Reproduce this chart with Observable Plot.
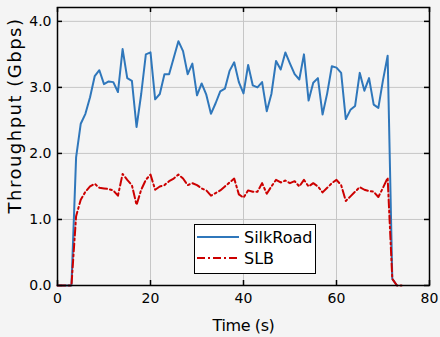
<!DOCTYPE html>
<html>
<head>
<meta charset="utf-8">
<script src="https://cdn.jsdelivr.net/npm/d3@7"></script>
<script src="https://cdn.jsdelivr.net/npm/@observablehq/plot@0.6"></script>
<style>
  html, body { margin: 0; padding: 0; background: #f4f4f4; }
  #wrap { position: relative; width: 440px; height: 337px; background: #f4f4f4; font-family: "DejaVu Sans", sans-serif; }
  #legend { position: absolute; left: 194px; top: 224px; width: 120px; height: 48px; background: #fff; border: 1px solid #000; }
  #legend .row { position: absolute; left: 2px; height: 20px; display: flex; align-items: center; font-size: 16px; color: #000; }
  #legend svg { margin-right: 5px; }
</style>
</head>
<body>
<div id="wrap"></div>
<script>
const time = d3.range(0, 75);
const silkRoad = [0, 0, 0, 0, 1.94, 2.45, 2.6, 2.85, 3.17, 3.26,
  3.05, 3.09, 3.08, 2.93, 3.58, 3.14, 3.1, 2.4, 2.9, 3.5,
  3.53, 2.82, 2.9, 3.2, 3.2, 3.45, 3.7, 3.55, 3.2, 3.36,
  2.88, 3.06, 2.89, 2.6, 2.76, 2.94, 2.98, 3.25, 3.38, 3.08,
  2.91, 3.34, 3.03, 3.0, 3.08, 2.64, 2.9, 3.4, 3.27, 3.53,
  3.36, 3.2, 3.12, 3.5, 2.8, 3.07, 3.14, 2.59, 2.91, 3.32,
  3.3, 3.22, 2.52, 2.66, 2.72, 3.22, 2.95, 3.14, 2.74, 2.69,
  3.11, 3.48, 0.1, 0];
const slb = [0, 0, 0, 0, 1.05, 1.3, 1.42, 1.5, 1.54, 1.48,
  1.47, 1.46, 1.44, 1.36, 1.69, 1.6, 1.52, 1.22, 1.45, 1.6,
  1.68, 1.45, 1.5, 1.52, 1.58, 1.62, 1.68, 1.62, 1.52, 1.55,
  1.52, 1.47, 1.44, 1.36, 1.4, 1.44, 1.5, 1.56, 1.62, 1.38,
  1.33, 1.44, 1.42, 1.42, 1.55, 1.39, 1.5, 1.6, 1.56, 1.59,
  1.55, 1.58, 1.5, 1.6, 1.5, 1.55, 1.5, 1.41, 1.48, 1.55,
  1.6, 1.52, 1.28, 1.35, 1.42, 1.49, 1.45, 1.43, 1.42, 1.34,
  1.48, 1.63, 0.1, 0, 0];
const xTicks = [0, 20, 40, 60, 80];
const yTicks = [0, 1, 2, 3, 4];
const seriesNames = ["SilkRoad", "SLB"];
const colors = ["#2f77bb", "#cc0000"];
const dash = "8,3,2,3";
const xLabel = "Time (s)";
const yLabel = "Throughput (Gbps)";

const silkData = silkRoad.map((v, i) => ({t: time[i], v}));
const slbData = slb.map((v, i) => ({t: time[i], v}));

const W = 440, H = 337, mL = 57, mR = 11, mT = 7, mB = 52;
const innerW = W - mL - mR, innerH = H - mT - mB;

const chart = Plot.plot({
  width: W, height: H,
  marginLeft: mL, marginRight: mR, marginTop: mT, marginBottom: mB,
  style: {background: "#f4f4f4", fontFamily: "DejaVu Sans, sans-serif", fontSize: "14px", color: "#000"},
  x: {domain: [0, 80]},
  y: {domain: [0, 4.21]},
  marks: [
    Plot.gridX(xTicks.slice(1, -1), {stroke: "#c6c6c6", strokeOpacity: 1, strokeWidth: 1}),
    Plot.gridY(yTicks.slice(1), {stroke: "#c6c6c6", strokeOpacity: 1, strokeWidth: 1}),
    Plot.axisX(xTicks, {tickSize: 0, tickPadding: 8, tickFormat: d => String(d), label: null, fontSize: 14}),
    Plot.axisY(yTicks, {tickSize: 0, tickPadding: 6, tickFormat: d => d.toFixed(1), label: null, fontSize: 14}),
    Plot.tickX(xTicks, {x: d => d, insetTop: innerH - 5, stroke: "#000", strokeWidth: 1.5}),
    Plot.tickX(xTicks, {x: d => d, insetBottom: innerH - 5, stroke: "#000", strokeWidth: 1.5}),
    Plot.tickY(yTicks, {y: d => d, insetRight: innerW - 5, stroke: "#000", strokeWidth: 1.5}),
    Plot.tickY(yTicks, {y: d => d, insetLeft: innerW - 5, stroke: "#000", strokeWidth: 1.5}),
    Plot.lineY(silkData, {x: "t", y: "v", stroke: colors[0], strokeWidth: 2}),
    Plot.lineY(slbData, {x: "t", y: "v", stroke: colors[1], strokeWidth: 2, strokeDasharray: dash}),
    Plot.frame({stroke: "#000", strokeWidth: 1.5}),
    Plot.text([xLabel], {frameAnchor: "bottom", dy: 45, fontSize: 16, fill: "#000"}),
    Plot.text([yLabel], {frameAnchor: "left", textAnchor: "middle", dx: -42, dy: -31, rotate: -90, fontSize: 18, fill: "#000"})
  ]
});

chart.querySelectorAll("text").forEach(t => {
  if (t.textContent === yLabel) t.style.letterSpacing = "1.5px";
  if (t.textContent === xLabel) t.style.letterSpacing = "-0.4px";
});

const wrap = document.getElementById("wrap");
wrap.appendChild(chart);

const legend = document.createElement("div");
legend.id = "legend";
seriesNames.forEach((name, i) => {
  const row = document.createElement("div");
  row.className = "row";
  row.style.top = (i === 0 ? 2 : 23) + "px";
  row.innerHTML = `<svg width="42" height="20"><line x1="0" y1="10" x2="42" y2="10" stroke="${colors[i]}" stroke-width="2" ${i === 1 ? `stroke-dasharray="${dash}"` : ""}/></svg><span>${name}</span>`;
  legend.appendChild(row);
});
wrap.appendChild(legend);
</script>
</body>
</html>
